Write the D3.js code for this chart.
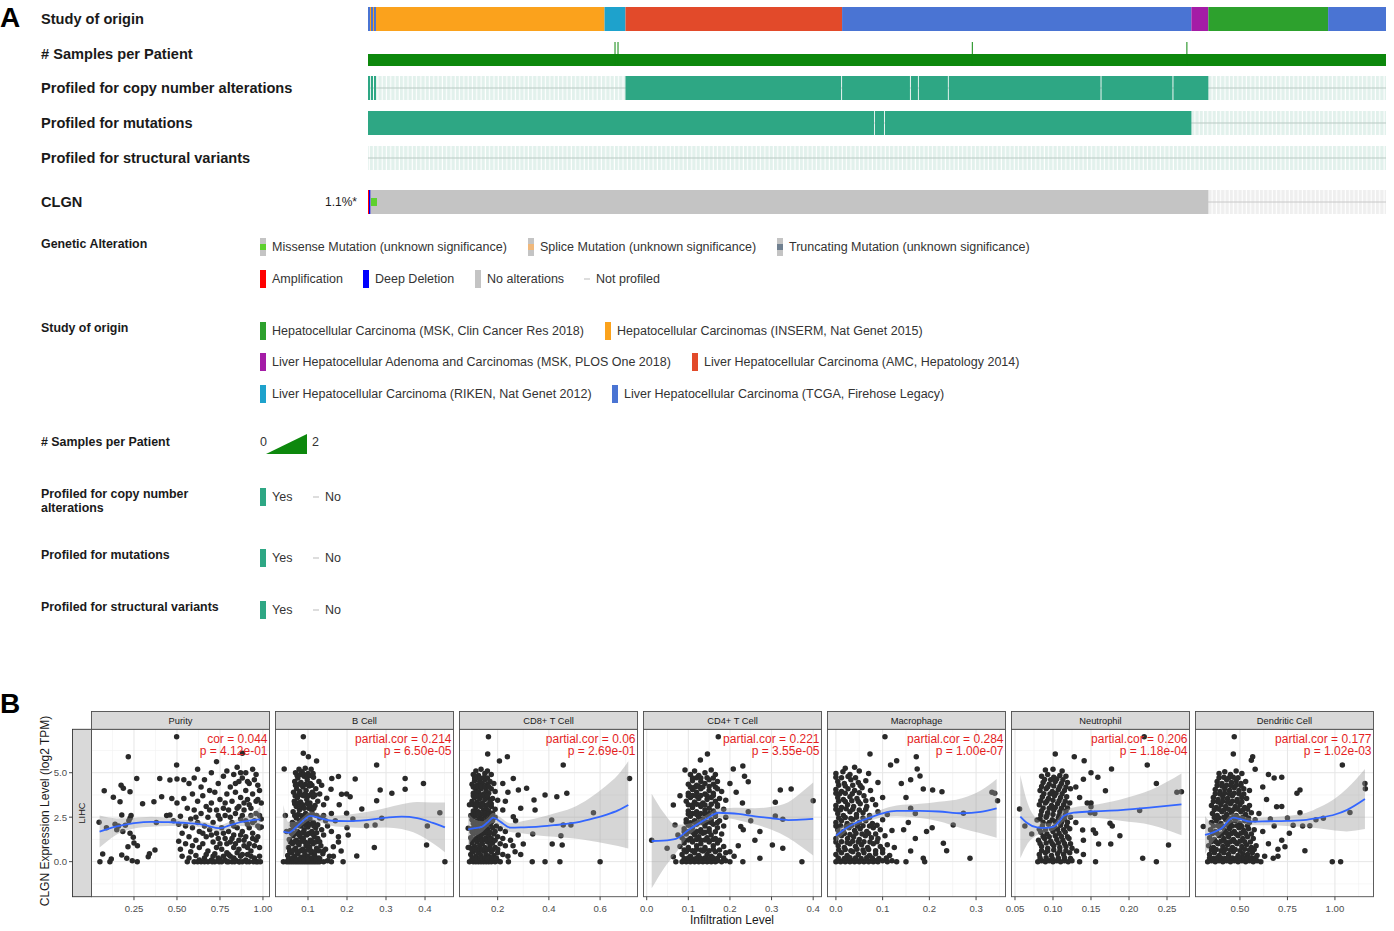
<!DOCTYPE html>
<html><head><meta charset="utf-8">
<script src="https://cdn.jsdelivr.net/npm/d3@7"></script>
<style>
body{margin:0;background:#fff}
svg{display:block}
text{font-family:"Liberation Sans",Arial,Helvetica,sans-serif}
</style></head>
<body><svg id="c" width="1394" height="931"></svg>
<script>
// ---------------- DATA: Panel A (oncoprint) ----------------
const trackLabels = ["Study of origin", "# Samples per Patient", "Profiled for copy number alterations", "Profiled for mutations", "Profiled for structural variants"];
const geneLabel = "CLGN";
const geneFreq = "1.1%*";
const studyNames = [
  "Hepatocellular Carcinoma (MSK, Clin Cancer Res 2018)",
  "Hepatocellular Carcinomas (INSERM, Nat Genet 2015)",
  "Liver Hepatocellular Adenoma and Carcinomas (MSK, PLOS One 2018)",
  "Liver Hepatocellular Carcinoma (AMC, Hepatology 2014)",
  "Liver Hepatocellular Carcinoma (RIKEN, Nat Genet 2012)",
  "Liver Hepatocellular Carcinoma (TCGA, Firehose Legacy)"
];
const studyColors = ["#2da12d", "#fba21c", "#a41ca6", "#e24a2a", "#1ea2cc", "#4a74d3"];
const runStudy = [5, 1, 5, 1, 5, 1, 4, 3, 5, 2, 0, 5];
const runCount = [2, 1, 2, 1, 2, 229, 21, 217, 350, 17, 120, 58];
const twoSampleIdx = [247, 250, 605, 820];
const cnaProfiled = [[0,2],[3,5],[6,8],[258,474],[475,543],[544,551],[552,581],[582,734],[735,806],[807,842]];
const mutProfiled = [[0,507],[508,517],[518,825]];
const svProfiled = [];
const geneProfiled = [[0,842]];
const geneAlt = [[0,"amp"],[1,"homdel"],[3,"missense"],[4,"missense"],[5,"missense"],[6,"missense"],[7,"missense"],[8,"missense"]];

const altLegendRow1 = ["Missense Mutation (unknown significance)", "Splice Mutation (unknown significance)", "Truncating Mutation (unknown significance)"];
const altLegendRow1Colors = ["#5ed12e", "#f0b87b", "#708090"];
const altLegendRow2 = ["Amplification", "Deep Deletion", "No alterations", "Not profiled"];
const studyLegendOrder = [[0,1],[2,3],[4,5]];
const legendTitles = ["Genetic Alteration", "Study of origin", "# Samples per Patient", "Profiled for copy number\nalterations", "Profiled for mutations", "Profiled for structural variants"];

// ---------------- DATA: Panel B (TIMER scatter) ----------------
const panelNames = ["Purity", "B Cell", "CD8+ T Cell", "CD4+ T Cell", "Macrophage", "Neutrophil", "Dendritic Cell"];
const corLabels = ["cor = 0.044", "partial.cor = 0.214", "partial.cor = 0.06", "partial.cor = 0.221", "partial.cor = 0.284", "partial.cor = 0.206", "partial.cor = 0.177"];
const pLabels = ["p = 4.12e-01", "p = 6.50e-05", "p = 2.69e-01", "p = 3.55e-05", "p = 1.00e-07", "p = 1.18e-04", "p = 1.02e-03"];
const xDomains = [[0.003,1.038],[0.0167,0.473],[0.051,0.746],[-0.0077,0.420],[-0.018,0.363],[0.0454,0.2796],[0.266,1.203]];
const xTicks = [[0.25,0.5,0.75,1.0],[0.1,0.2,0.3,0.4],[0.2,0.4,0.6],[0,0.1,0.2,0.3,0.4],[0,0.1,0.2,0.3],[0.05,0.1,0.15,0.2,0.25],[0.5,0.75,1.0]];
const xTickLabels = [["0.25","0.50","0.75","1.00"],["0.1","0.2","0.3","0.4"],["0.2","0.4","0.6"],["0.0","0.1","0.2","0.3","0.4"],["0.0","0.1","0.2","0.3"],["0.05","0.10","0.15","0.20","0.25"],["0.50","0.75","1.00"]];
const yDomain = [-1.97, 7.44];
const yTicks = [0, 2.5, 5.0];
const yTickLabels = ["0.0", "2.5", "5.0"];
const rowStrip = "LIHC";
const yTitle = "CLGN Expression Level (log2 TPM)";
const xTitle = "Infiltration Level";

const ptsPurity = [
0.047,2.21,0.052,0.0,0.068,0.43,0.077,3.99,0.09,1.90,0.11,0.0,0.118,0.15,0.13,3.62,0.14,2.10,0.15,1.80,0.16,2.0,0.169,3.37,0.175,4.30,0.179,2.62,0.179,0.38,0.185,1.70,0.188,4.12,0.20,2.05,0.208,0.19,0.215,0.84,0.217,5.90,0.22,2.30,0.227,3.93,0.227,2.44,0.227,1.60,0.233,2.60,0.24,0.05,0.246,1.37,0.25,1.05,0.266,4.68,0.269,0.0,0.27,0.90,0.30,3.25,0.333,0.28,0.34,0.45,0.366,3.37,0.372,0.66,0.38,2.20,0.40,4.68,0.411,3.65,0.44,2.60,0.459,4.59,0.459,2.62,0.47,3.55,0.48,2.30,0.498,7.02,0.498,5.43,
0.50,4.65,0.50,3.3,0.51,2.1,0.51,1.15,0.52,0.7,0.52,2.55,0.53,1.6,0.53,0.3,0.54,4.6,0.54,3.55,0.55,2.0,0.55,1.0,0.56,0.0,0.56,3.0,0.57,1.4,0.57,4.4,0.58,2.4,0.58,0.55,0.59,1.9,0.59,3.8,0.60,0.0,0.60,2.9,0.60,4.7,0.61,1.2,0.61,0.35,0.62,2.2,0.62,5.2,0.62,3.4,0.63,0.8,0.63,1.7,0.64,0.0,0.64,4.2,0.64,2.7,0.65,1.0,0.65,3.7,0.66,0.2,0.66,2.0,0.66,4.6,0.67,1.4,0.67,3.1,0.68,0.0,0.68,0.6,0.68,2.5,0.69,4.0,0.69,1.8,0.70,0.1,0.70,3.3,0.70,5.0,0.71,1.1,0.71,2.2,0.72,0.0,0.72,0.45,0.72,3.9,0.73,1.6,0.73,2.9,0.73,5.62,0.74,0.2,0.74,4.4,0.75,1.0,0.75,2.4,0.75,3.5,0.76,0.0,0.76,0.7,0.76,1.9,0.77,3.0,0.77,4.8,0.78,0.1,0.78,1.3,0.78,2.6,0.79,0.5,0.79,3.8,0.79,5.1,0.80,0.0,0.80,1.7,0.80,2.9,0.81,0.3,0.81,4.2,0.81,1.1,0.82,0.0,0.82,2.2,0.82,3.4,0.83,0.8,0.83,4.9,0.83,1.5,0.84,0.1,0.84,2.7,0.84,3.9,0.85,0.5,0.85,1.9,0.85,5.3,0.86,0.0,0.86,1.2,0.86,3.1,0.86,4.5,0.87,0.3,0.87,2.4,0.87,3.6,0.88,0.0,0.88,6.09,0.88,1.7,0.88,4.7,0.89,0.9,0.89,2.9,0.89,3.3,0.90,0.1,0.90,5.0,0.90,1.4,0.90,4.0,0.91,0.4,0.91,2.1,0.91,3.5,0.92,0.0,0.92,1.0,0.92,4.4,0.93,2.6,0.93,0.6,0.93,3.0,0.94,5.2,0.94,1.6,0.94,3.8,0.95,0.2,0.95,2.3,0.95,4.6,0.96,0.0,0.96,1.2,0.96,3.4,0.97,0.0,0.97,2.0,0.97,3.5,0.97,4.3,0.98,1.9,0.98,2.6,0.98,0.8,0.99,3.3,0.99,1.95,0.985,0.0,0.945,0.0,0.905,0.0,0.865,0.0,0.835,0.0,0.79,0.0,0.745,0.0,0.705,0.0,0.66,0.0,0.62,0.0,
0.57,0.2,0.59,0.9,0.61,2.5,0.63,0.1,0.65,1.6,0.67,0.4,0.69,2.9,0.70,1.5,0.71,0.3,0.73,0.8,0.74,1.3,0.74,2.6,0.75,0.1,0.77,0.3,0.77,1.6,0.78,3.3,0.79,1.0,0.80,0.4,0.81,2.5,0.82,1.3,0.83,0.2,0.83,2.0,0.84,1.0,0.85,3.0,0.86,0.7,0.87,1.5,0.88,0.4,0.88,2.6,0.89,1.2,0.90,2.3,0.91,0.8,0.91,4.5,0.92,1.9,0.93,0.3,0.94,1.3,0.94,2.2,0.95,0.9,0.96,2.7,0.97,1.4,0.98,0.3,0.98,4.0,0.99,2.4,0.96,4.9,0.92,3.2,0.87,5.0,0.84,4.4
];
const ptsBcell = [
0.045,0.0,0.05,0.0,0.055,0.0,0.06,0.0,0.065,0.0,0.07,0.0,0.075,0.0,0.08,0.0,0.085,0.0,0.09,0.0,0.095,0.0,0.10,0.0,0.105,0.0,0.11,0.0,0.115,0.0,0.12,0.0,0.125,0.0,0.13,0.0,0.14,0.0,0.15,0.05,0.16,0.0,
0.048,0.35,0.058,0.5,0.066,0.3,0.074,0.45,0.083,0.25,0.092,0.4,0.1,0.3,0.108,0.5,0.117,0.35,0.127,0.2,0.138,0.45,0.155,0.3,
0.05,0.8,0.06,1.0,0.068,0.75,0.077,0.95,0.086,0.7,0.095,0.9,0.104,0.8,0.113,1.0,0.122,0.75,0.133,0.9,0.145,0.7,0.165,0.84,
0.052,1.25,0.062,1.45,0.07,1.2,0.08,1.4,0.088,1.3,0.097,1.5,0.106,1.2,0.116,1.4,0.125,1.3,0.14,1.5,0.178,1.4,
0.055,1.75,0.064,1.9,0.073,1.7,0.082,2.0,0.09,1.8,0.1,1.95,0.11,1.7,0.12,1.9,0.135,1.8,0.15,2.0,
0.06,2.2,0.07,2.45,0.079,2.3,0.087,2.5,0.096,2.25,0.105,2.4,0.114,2.2,0.13,2.45,0.145,2.3,
0.062,2.8,0.07,3.1,0.078,2.9,0.086,3.2,0.094,2.7,0.102,3.0,0.11,2.85,0.118,3.15,
0.065,3.4,0.073,3.6,0.081,3.35,0.089,3.7,0.097,3.5,0.105,3.3,0.113,3.65,0.125,3.4,
0.063,3.9,0.071,4.1,0.079,3.95,0.087,4.2,0.095,4.0,0.103,4.25,0.111,3.9,0.12,4.1,
0.066,4.5,0.074,4.7,0.082,4.45,0.09,4.8,0.098,4.6,0.106,4.4,0.114,4.75,0.128,4.5,
0.068,5.0,0.077,5.2,0.085,5.05,0.093,5.25,0.1,4.95,0.108,5.2,
0.039,5.21,0.088,7.02,0.088,6.09,0.101,5.9,0.122,5.66,0.135,4.3,0.13,3.8,0.14,3.2,0.148,3.56,0.14,2.6,
0.159,4.07,0.161,4.68,0.178,4.78,0.186,3.79,0.199,3.80,0.208,3.65,0.221,4.65,0.238,2.96,0.199,2.72,0.276,5.43,0.285,4.03,0.315,3.84,0.349,4.07,0.349,4.68,0.396,4.40,0.276,3.43,0.289,2.44,0.272,2.06,0.250,2.02,0.203,1.5,0.225,0.32,0.270,0.79,0.178,1.1,0.185,0.6,0.165,0.3,0.19,0.0,0.17,2.3,0.16,2.7,0.18,3.2,0.438,2.75,0.406,2.0,0.404,0.94,0.451,0.0,0.037,0.0,0.16,1.7,0.2,1.9,0.215,2.4,0.045,1.7,0.042,2.6,
0.05,0.15,0.06,0.2,0.07,0.12,0.08,0.18,0.09,0.15,0.1,0.12,0.11,0.2,0.12,0.15,0.13,0.18,
0.053,0.6,0.063,0.65,0.072,0.55,0.081,0.62,0.09,0.58,0.099,0.66,0.108,0.6,0.118,0.55,0.128,0.62,0.14,0.6,
0.055,1.1,0.065,1.12,0.074,1.05,0.083,1.15,0.092,1.1,0.101,1.05,0.11,1.15,0.12,1.1,0.13,1.12,
0.058,1.58,0.067,1.6,0.076,1.52,0.085,1.62,0.094,1.55,0.103,1.6,0.112,1.55,0.122,1.62,
0.06,2.05,0.069,2.1,0.078,2.02,0.087,2.12,0.096,2.05,0.105,2.1,0.115,2.0,0.125,2.08,
0.066,2.6,0.075,2.65,0.084,2.58,0.093,2.62,0.102,2.6,0.112,2.65,0.122,2.6,
0.066,3.25,0.074,3.3,0.082,3.1,0.09,3.0,0.098,3.25,0.106,3.1,0.115,3.0,
0.067,3.7,0.077,3.8,0.085,3.75,0.093,3.8,0.101,3.7,0.109,3.8,0.118,3.75,
0.068,4.3,0.077,4.35,0.085,4.3,0.094,4.35,0.102,4.3,0.11,4.3,
0.072,4.85,0.08,4.9,0.089,4.9,0.097,4.8,0.105,4.85,0.113,4.95
];
const ptsCD8 = [
0.09,0.0,0.1,0.05,0.105,0.0,0.11,0.05,0.115,0.0,0.12,0.05,0.125,0.0,0.13,0.05,0.135,0.0,0.14,0.05,0.145,0.0,0.15,0.05,0.155,0.0,0.16,0.05,0.165,0.0,0.17,0.05,0.175,0.0,0.18,0.05,0.19,0.0,0.2,0.05,0.21,0.0,
0.095,0.4,0.105,0.55,0.115,0.3,0.125,0.5,0.135,0.35,0.145,0.6,0.155,0.4,0.165,0.3,0.175,0.55,0.185,0.35,0.2,0.5,0.22,0.4,0.24,0.3,
0.09,0.8,0.1,1.05,0.11,0.85,0.12,1.1,0.13,0.9,0.14,1.0,0.15,0.8,0.16,1.1,0.17,0.9,0.18,1.05,0.19,0.8,0.21,1.0,0.23,0.9,
0.095,1.35,0.105,1.55,0.115,1.3,0.125,1.5,0.135,1.4,0.145,1.6,0.155,1.35,0.165,1.5,0.175,1.3,0.185,1.55,0.2,1.4,0.22,1.3,
0.1,1.85,0.11,2.05,0.12,1.9,0.13,2.1,0.14,1.8,0.15,2.0,0.16,1.85,0.17,2.1,0.18,1.9,0.195,2.0,0.21,1.85,
0.1,2.35,0.11,2.55,0.12,2.3,0.13,2.5,0.14,2.4,0.15,2.6,0.16,2.35,0.17,2.55,0.18,2.3,0.19,2.5,
0.105,2.85,0.115,3.05,0.125,2.8,0.135,3.1,0.145,2.9,0.155,3.0,0.165,2.85,0.175,3.1,0.19,2.95,
0.1,3.4,0.11,3.6,0.12,3.35,0.13,3.55,0.14,3.3,0.15,3.5,0.16,3.6,0.17,3.4,0.18,3.55,0.2,3.45,
0.105,3.85,0.115,4.05,0.125,3.9,0.135,4.1,0.145,3.8,0.155,4.0,0.165,3.85,0.175,4.1,0.19,3.95,
0.1,4.35,0.11,4.55,0.12,4.3,0.13,4.5,0.14,4.4,0.15,4.6,0.16,4.35,0.17,4.5,0.185,4.4,
0.105,4.9,0.115,5.1,0.125,4.85,0.135,5.2,0.15,4.95,0.16,5.1,0.175,4.9,
0.164,7.02,0.161,6.05,0.207,5.66,0.238,5.90,0.456,5.43,0.261,4.68,0.281,4.03,0.313,4.12,0.342,3.47,0.385,3.75,0.431,3.65,0.47,3.84,0.715,4.68,0.346,2.90,0.261,2.53,0.27,2.3,0.411,2.34,0.574,2.75,0.456,2.06,0.486,2.06,0.337,1.56,0.30,0.99,0.413,0.99,0.447,1.46,0.452,0.94,0.335,0.0,0.385,0.0,0.443,0.0,0.60,0.0,0.085,1.88,0.085,0.80,0.242,0.0,0.268,0.56,0.23,1.7,0.25,1.2,0.28,1.5,0.22,2.9,0.23,3.4,0.24,3.9,0.22,4.4,0.29,3.0,0.26,0.9,0.29,0.4,0.095,2.6,0.09,3.2,
0.1,0.18,0.11,0.2,0.12,0.15,0.13,0.2,0.14,0.18,0.15,0.2,0.16,0.15,0.17,0.2,0.18,0.18,0.195,0.2,
0.1,0.65,0.11,0.7,0.12,0.68,0.13,0.7,0.14,0.65,0.15,0.7,0.16,0.68,0.17,0.7,0.18,0.65,0.2,0.7,
0.1,1.2,0.11,1.25,0.12,1.2,0.13,1.25,0.14,1.2,0.15,1.25,0.16,1.2,0.17,1.25,0.19,1.2,
0.1,1.68,0.11,1.7,0.12,1.65,0.13,1.7,0.14,1.65,0.15,1.68,0.16,1.7,0.17,1.65,0.19,1.7,
0.105,2.15,0.115,2.2,0.125,2.15,0.135,2.2,0.145,2.15,0.155,2.2,0.165,2.15,0.175,2.2,
0.105,2.7,0.115,2.68,0.125,2.7,0.135,2.68,0.145,2.7,0.155,2.72,0.165,2.68,0.18,2.72,
0.105,3.2,0.115,3.22,0.125,3.2,0.135,3.22,0.145,3.2,0.16,3.2,0.175,3.25,
0.105,3.7,0.115,3.72,0.125,3.7,0.135,3.72,0.145,3.7,0.16,3.72,
0.105,4.2,0.115,4.22,0.125,4.2,0.135,4.22,0.15,4.2,0.165,4.22,
0.11,4.7,0.12,4.72,0.13,4.7,0.145,4.72,0.16,4.7
];
const ptsCD4 = [
0.085,0.0,0.09,0.05,0.095,0.0,0.10,0.05,0.105,0.0,0.11,0.05,0.115,0.0,0.12,0.05,0.125,0.0,0.13,0.05,0.135,0.0,0.14,0.05,0.145,0.0,0.15,0.05,0.155,0.0,0.16,0.05,0.165,0.0,0.17,0.05,0.18,0.0,0.19,0.05,0.20,0.0,
0.085,0.4,0.095,0.55,0.105,0.3,0.115,0.5,0.125,0.35,0.135,0.6,0.145,0.4,0.155,0.3,0.165,0.55,0.175,0.35,0.19,0.5,
0.08,0.85,0.09,1.05,0.1,0.8,0.11,1.1,0.12,0.9,0.13,1.0,0.14,0.8,0.15,1.1,0.16,0.9,0.17,1.05,0.185,0.85,
0.085,1.35,0.095,1.55,0.105,1.3,0.115,1.5,0.125,1.4,0.135,1.6,0.145,1.35,0.155,1.5,0.165,1.3,0.18,1.55,
0.09,1.85,0.1,2.05,0.11,1.9,0.12,2.1,0.13,1.8,0.14,2.0,0.15,1.85,0.16,2.1,0.17,1.9,0.185,2.0,
0.095,2.35,0.105,2.55,0.115,2.3,0.125,2.5,0.135,2.4,0.145,2.6,0.155,2.35,0.165,2.55,0.175,2.3,0.19,2.5,
0.1,2.85,0.11,3.05,0.12,2.8,0.13,3.1,0.14,2.9,0.15,3.0,0.16,2.85,0.17,3.1,0.185,2.95,
0.095,3.4,0.105,3.6,0.115,3.35,0.125,3.55,0.135,3.3,0.145,3.5,0.155,3.6,0.165,3.4,0.175,3.55,0.19,3.45,
0.1,3.85,0.11,4.05,0.12,3.9,0.13,4.1,0.14,3.8,0.15,4.0,0.16,3.85,0.17,4.1,0.18,3.95,
0.1,4.35,0.11,4.55,0.12,4.3,0.13,4.5,0.14,4.4,0.15,4.6,0.16,4.35,0.17,4.5,
0.105,4.9,0.115,5.1,0.125,4.85,0.14,5.0,0.155,5.15,0.165,4.9,
0.172,7.02,0.146,6.05,0.129,5.71,0.092,5.15,0.208,5.21,0.231,5.38,0.244,4.49,0.235,4.8,0.347,4.08,0.321,4.03,0.309,3.34,0.400,3.43,0.064,3.19,0.244,2.81,0.226,1.97,0.232,1.8,0.272,1.69,0.309,2.57,0.327,2.38,0.302,0.94,0.327,0.75,0.272,0.19,0.231,0.0,0.373,0.0,0.012,1.20,0.049,0.75,0.064,0.28,0.068,2.06,0.200,0.56,0.21,0.3,0.22,0.9,0.215,3.9,0.2,4.4,0.23,3.3,0.25,2.3,0.26,1.2,0.075,1.5,0.07,0.0,0.08,3.7,
0.09,0.18,0.1,0.2,0.11,0.15,0.12,0.2,0.13,0.18,0.14,0.2,0.15,0.15,0.16,0.2,0.17,0.18,0.185,0.2,
0.09,0.65,0.1,0.68,0.11,0.62,0.12,0.7,0.13,0.65,0.14,0.68,0.15,0.62,0.16,0.7,0.175,0.65,
0.09,1.2,0.1,1.22,0.11,1.18,0.12,1.25,0.13,1.2,0.14,1.22,0.15,1.18,0.16,1.25,0.175,1.2,
0.09,1.68,0.1,1.7,0.11,1.65,0.12,1.7,0.13,1.68,0.14,1.65,0.15,1.7,0.165,1.68,
0.095,2.2,0.105,2.18,0.115,2.22,0.125,2.2,0.135,2.18,0.145,2.22,0.155,2.2,0.17,2.2,
0.1,2.68,0.11,2.7,0.12,2.65,0.13,2.7,0.14,2.68,0.15,2.7,0.165,2.68,
0.1,3.2,0.11,3.18,0.12,3.22,0.13,3.2,0.14,3.18,0.155,3.22,0.17,3.2,
0.1,3.7,0.11,3.72,0.12,3.68,0.13,3.72,0.145,3.7,0.16,3.72,
0.105,4.2,0.115,4.18,0.125,4.22,0.135,4.2,0.15,4.22,0.165,4.2,
0.11,4.7,0.12,4.72,0.13,4.7,0.145,4.72,0.16,4.7
];
const ptsMacro = [
0.0,0.0,0.005,0.05,0.01,0.0,0.015,0.05,0.02,0.0,0.025,0.05,0.03,0.0,0.035,0.05,0.04,0.0,0.045,0.05,0.05,0.0,0.055,0.05,0.06,0.0,0.065,0.05,0.07,0.0,0.075,0.05,0.08,0.0,0.085,0.05,0.09,0.0,0.1,0.05,0.11,0.0,0.12,0.05,
0.0,0.4,0.012,0.5,0.024,0.35,0.036,0.55,0.048,0.4,0.06,0.5,0.072,0.35,0.085,0.45,0.1,0.5,0.115,0.35,
0.005,0.9,0.018,0.8,0.03,1.0,0.042,0.85,0.055,0.95,0.068,0.8,0.08,1.0,0.095,0.85,0.11,0.95,0.125,0.8,
0.0,1.3,0.012,1.45,0.025,1.3,0.038,1.4,0.05,1.25,0.063,1.45,0.076,1.35,0.09,1.3,0.105,1.45,
0.004,1.8,0.016,1.7,0.028,1.9,0.04,1.75,0.052,1.85,0.066,1.7,0.08,1.9,0.095,1.8,0.12,1.75,
0.0,2.2,0.012,2.3,0.024,2.15,0.036,2.35,0.05,2.2,0.064,2.3,0.078,2.15,0.1,2.35,
0.004,2.7,0.016,2.6,0.03,2.8,0.044,2.65,0.058,2.75,0.072,2.6,0.09,2.8,0.11,2.65,
0.0,3.15,0.012,3.05,0.025,3.2,0.038,3.1,0.052,3.25,0.066,3.1,0.085,3.2,
0.004,3.6,0.016,3.5,0.03,3.65,0.045,3.55,0.06,3.7,0.078,3.5,0.1,3.6,
0.0,4.05,0.012,3.95,0.026,4.1,0.04,4.0,0.056,4.15,0.074,4.0,
0.004,4.5,0.018,4.4,0.032,4.6,0.048,4.45,0.064,4.55,0.09,4.45,
0.0,4.95,0.015,5.05,0.03,4.9,0.05,5.1,0.07,4.95,0.02,5.25,0.04,5.3,
0.105,7.02,0.073,6.05,0.117,5.43,0.130,5.67,0.172,5.90,0.174,5.21,0.180,4.81,0.187,4.08,0.207,4.03,0.227,3.93,0.334,3.90,0.34,3.85,0.346,3.43,0.273,2.72,0.251,2.06,0.206,1.91,0.194,1.69,0.23,1.03,0.237,0.62,0.287,0.19,0.187,0.19,0.19,0.0,0.15,0.0,0.16,0.6,0.17,1.3,0.155,2.2,0.16,3.0,0.15,3.6,0.14,4.4,0.16,4.6,0.13,0.0,0.145,1.8,0.17,2.7,
0.005,0.2,0.018,0.18,0.03,0.22,0.042,0.2,0.054,0.18,0.066,0.22,0.078,0.2,0.092,0.18,0.108,0.2,
0.006,0.65,0.02,0.68,0.032,0.62,0.045,0.7,0.058,0.65,0.07,0.68,0.085,0.62,0.1,0.68,
0.0,1.1,0.012,1.12,0.024,1.08,0.036,1.15,0.048,1.1,0.06,1.12,0.073,1.1,0.088,1.12,
0.006,1.55,0.018,1.58,0.03,1.52,0.043,1.6,0.056,1.55,0.07,1.58,0.085,1.55,
0.0,2.0,0.01,2.02,0.022,1.98,0.034,2.05,0.046,2.0,0.058,2.02,0.072,2.0,0.088,2.05,
0.006,2.45,0.02,2.48,0.032,2.42,0.044,2.5,0.058,2.45,0.072,2.48,
0.0,2.95,0.01,2.92,0.022,2.98,0.036,2.95,0.05,2.9,0.064,2.95,
0.006,3.4,0.02,3.38,0.034,3.42,0.048,3.38,0.064,3.42,
0.0,3.85,0.008,3.82,0.02,3.85,0.035,3.82,0.05,3.88,
0.006,4.3,0.02,4.25,0.036,4.3,0.052,4.28,
0.0,4.75,0.012,4.72,0.026,4.78,0.042,4.72
];
const ptsNeutro = [
0.08,0.0,0.085,0.05,0.09,0.0,0.095,0.05,0.1,0.0,0.105,0.05,0.11,0.0,0.115,0.05,0.12,0.0,0.125,0.05,
0.082,0.4,0.09,0.5,0.098,0.35,0.106,0.45,0.114,0.4,0.122,0.5,
0.085,0.85,0.093,0.75,0.101,0.9,0.109,0.8,0.117,0.85,0.125,0.75,
0.081,1.2,0.089,1.3,0.097,1.15,0.105,1.25,0.113,1.2,0.121,1.3,
0.084,1.65,0.092,1.55,0.1,1.7,0.108,1.6,0.116,1.65,
0.086,2.0,0.094,2.1,0.102,1.95,0.11,2.05,0.118,2.0,
0.083,2.4,0.091,2.5,0.099,2.35,0.107,2.45,0.115,2.4,0.123,2.5,
0.085,2.85,0.093,2.75,0.101,2.9,0.109,2.8,0.117,2.85,
0.082,3.2,0.09,3.3,0.098,3.15,0.106,3.25,0.114,3.2,0.122,3.3,
0.086,3.65,0.094,3.55,0.102,3.7,0.11,3.6,0.118,3.65,
0.083,4.0,0.091,4.1,0.099,3.95,0.107,4.05,0.115,4.0,0.123,4.1,
0.087,4.45,0.095,4.35,0.103,4.5,0.111,4.4,0.119,4.45,
0.085,4.8,0.093,4.9,0.101,4.75,0.109,4.85,0.117,4.8,
0.09,5.15,0.1,5.2,0.112,5.1,
0.220,7.02,0.103,6.05,0.128,5.90,0.141,5.67,0.177,5.21,0.224,5.43,0.150,5.0,0.159,4.74,0.140,4.63,0.236,4.40,0.169,3.99,0.150,3.09,0.150,3.3,0.214,2.87,0.263,3.90,0.269,3.93,0.056,2.96,0.063,2.0,0.072,1.56,0.079,2.34,0.149,2.75,0.155,2.7,0.139,1.78,0.153,1.78,0.156,1.6,0.175,2.16,0.178,2.0,0.188,1.46,0.160,0.99,0.176,0.99,0.218,0.19,0.236,0.0,0.252,0.94,0.156,0.0,0.131,0.6,0.14,0.4,0.135,0.0,0.13,2.2,0.135,3.6,0.13,4.2,0.145,3.3,0.14,1.2,
0.083,0.2,0.091,0.22,0.099,0.18,0.107,0.2,0.115,0.22,0.123,0.18,
0.085,0.62,0.093,0.6,0.101,0.65,0.109,0.6,0.117,0.62,
0.083,1.02,0.091,1.05,0.099,1.0,0.107,1.05,0.115,1.02,0.123,1.0,
0.087,1.42,0.095,1.4,0.103,1.45,0.111,1.42,0.119,1.4,
0.082,1.82,0.09,1.8,0.098,1.85,0.106,1.82,0.114,1.8,0.122,1.85,
0.087,2.22,0.095,2.2,0.103,2.25,0.111,2.2,0.119,2.22,
0.084,2.62,0.092,2.6,0.1,2.65,0.108,2.6,0.116,2.62,
0.087,3.02,0.095,3.0,0.103,3.05,0.111,3.0,0.119,3.02,
0.084,3.42,0.092,3.4,0.1,3.45,0.108,3.42,0.116,3.4,
0.088,3.82,0.096,3.8,0.104,3.85,0.112,3.82,
0.085,4.22,0.093,4.2,0.101,4.25,0.109,4.22,0.117,4.2,
0.089,4.62,0.097,4.6,0.105,4.65,0.113,4.6
];
const ptsDendritic = [
0.33,0.0,0.35,0.05,0.37,0.0,0.39,0.05,0.41,0.0,0.43,0.05,0.45,0.0,0.47,0.05,0.49,0.0,0.51,0.05,0.53,0.0,0.55,0.05,0.57,0.0,0.59,0.05,
0.34,0.4,0.365,0.5,0.39,0.35,0.415,0.5,0.44,0.4,0.465,0.55,0.49,0.35,0.515,0.45,0.54,0.4,0.565,0.5,0.59,0.35,
0.335,0.9,0.36,0.8,0.385,1.0,0.41,0.85,0.435,0.95,0.46,0.8,0.485,1.0,0.51,0.85,0.535,0.95,0.56,0.8,0.585,0.9,
0.34,1.35,0.365,1.25,0.39,1.45,0.415,1.3,0.44,1.4,0.465,1.25,0.49,1.45,0.515,1.3,0.54,1.4,0.57,1.3,
0.345,1.8,0.37,1.7,0.395,1.9,0.42,1.75,0.445,1.85,0.47,1.7,0.495,1.9,0.52,1.75,0.545,1.85,0.575,1.8,
0.35,2.2,0.375,2.3,0.4,2.15,0.425,2.35,0.45,2.2,0.475,2.3,0.5,2.15,0.525,2.3,0.55,2.2,0.58,2.35,
0.355,2.7,0.38,2.6,0.405,2.8,0.43,2.65,0.455,2.75,0.48,2.6,0.505,2.8,0.53,2.65,0.56,2.75,
0.35,3.15,0.375,3.05,0.4,3.2,0.425,3.1,0.45,3.25,0.475,3.1,0.5,3.2,0.525,3.05,0.55,3.15,
0.36,3.6,0.385,3.5,0.41,3.65,0.435,3.55,0.46,3.7,0.485,3.5,0.51,3.6,0.535,3.55,
0.37,4.05,0.395,3.95,0.42,4.1,0.445,4.0,0.47,4.15,0.495,4.0,0.52,4.1,0.55,4.0,
0.38,4.5,0.405,4.4,0.43,4.6,0.455,4.45,0.48,4.55,0.505,4.4,0.53,4.5,
0.39,4.95,0.42,5.05,0.45,4.9,0.48,5.1,0.51,4.95,
0.470,7.02,0.465,6.05,0.567,5.90,0.56,5.7,1.039,5.43,1.158,4.40,1.16,4.1,0.816,4.03,0.80,3.85,0.720,4.74,0.68,4.7,0.693,3.09,0.72,3.1,1.079,2.77,0.816,2.75,0.939,2.44,0.90,2.35,0.868,2.02,0.83,2.0,0.78,2.05,0.737,0.84,0.70,0.7,0.842,0.62,0.986,0.0,1.030,0.0,0.675,0.19,0.70,0.3,0.307,1.97,0.76,1.6,0.72,1.2,0.65,1.0,0.66,2.4,0.64,3.5,0.62,4.2,0.68,2.0,0.75,2.45,0.61,0.0,0.63,0.3,0.62,1.7,0.60,2.7,0.65,4.9,0.58,5.2,
0.34,0.2,0.36,0.18,0.38,0.22,0.40,0.2,0.42,0.18,0.44,0.22,0.46,0.2,0.48,0.18,0.50,0.22,0.52,0.2,0.54,0.18,0.56,0.22,0.58,0.2,
0.35,0.65,0.375,0.68,0.40,0.62,0.425,0.7,0.45,0.65,0.475,0.68,0.50,0.62,0.525,0.7,0.55,0.65,0.575,0.68,
0.35,1.12,0.375,1.1,0.40,1.15,0.425,1.1,0.45,1.12,0.475,1.1,0.50,1.15,0.525,1.12,0.555,1.1,
0.355,1.58,0.38,1.6,0.405,1.55,0.43,1.6,0.455,1.58,0.48,1.55,0.505,1.6,0.53,1.58,0.56,1.55,
0.36,2.0,0.385,2.02,0.41,1.98,0.435,2.05,0.46,2.0,0.485,2.02,0.51,1.98,0.54,2.02,
0.365,2.48,0.39,2.45,0.415,2.5,0.44,2.45,0.465,2.48,0.49,2.45,0.515,2.5,0.545,2.45,
0.365,2.92,0.39,2.95,0.415,2.9,0.44,2.95,0.465,2.92,0.49,2.95,0.515,2.9,0.54,2.95,
0.36,3.38,0.385,3.35,0.41,3.4,0.435,3.35,0.46,3.4,0.485,3.38,0.51,3.35,
0.37,3.82,0.395,3.8,0.42,3.85,0.445,3.8,0.47,3.85,0.495,3.82,0.52,3.8,
0.38,4.28,0.405,4.25,0.43,4.3,0.455,4.25,0.48,4.3,0.505,4.28,
0.39,4.72,0.415,4.75,0.44,4.7,0.465,4.75,0.49,4.72
];
// loess fits: [x, fit, half-width of confidence band]
const fitPurity = [[0.05,1.69,0.9],[0.15,1.98,0.45],[0.25,2.16,0.3],[0.35,2.24,0.28],[0.45,2.22,0.22],[0.55,2.18,0.18],[0.65,2.08,0.16],[0.75,1.88,0.18],[0.80,2.02,0.2],[0.87,2.22,0.22],[0.93,2.32,0.35],[0.985,2.38,0.7]];
const fitBcell = [[0.037,1.69,1.5],[0.05,1.63,0.6],[0.07,1.95,0.3],[0.09,2.35,0.22],[0.105,2.57,0.25],[0.13,2.45,0.25],[0.16,2.30,0.28],[0.20,2.28,0.35],[0.25,2.34,0.45],[0.30,2.47,0.55],[0.34,2.53,0.7],[0.38,2.45,0.9],[0.42,2.18,1.15],[0.451,1.93,1.4]];
const fitCD8 = [[0.085,1.82,0.9],[0.11,1.88,0.5],[0.14,1.97,0.3],[0.16,2.2,0.25],[0.183,2.47,0.28],[0.21,2.25,0.25],[0.25,1.91,0.25],[0.30,1.93,0.35],[0.36,1.97,0.5],[0.42,2.05,0.65],[0.49,2.16,0.85],[0.56,2.38,1.2],[0.62,2.62,1.6],[0.67,2.88,2.0],[0.71,3.19,2.45]];
const fitCD4 = [[0.012,1.16,2.66],[0.04,1.18,1.6],[0.07,1.28,0.8],[0.10,1.78,0.35],[0.132,2.25,0.22],[0.15,2.5,0.22],[0.172,2.75,0.25],[0.20,2.72,0.3],[0.22,2.68,0.35],[0.26,2.55,0.45],[0.30,2.44,0.65],[0.34,2.34,1.0],[0.37,2.36,1.5],[0.40,2.40,2.05]];
const fitMacro = [[0.0,1.46,0.35],[0.02,1.85,0.22],[0.041,2.16,0.18],[0.07,2.45,0.18],[0.10,2.72,0.22],[0.13,2.85,0.3],[0.18,2.85,0.4],[0.22,2.82,0.55],[0.27,2.72,0.85],[0.31,2.80,1.2],[0.344,3.0,1.65]];
const fitNeutro = [[0.057,2.53,2.34],[0.065,2.2,1.3],[0.079,1.93,0.45],[0.09,1.9,0.25],[0.101,1.97,0.2],[0.108,2.25,0.25],[0.114,2.57,0.3],[0.127,2.75,0.3],[0.15,2.82,0.35],[0.189,2.90,0.6],[0.23,3.05,1.0],[0.269,3.22,1.73]];
const fitDendritic = [[0.316,1.5,1.07],[0.36,1.65,0.5],[0.40,1.85,0.3],[0.465,2.47,0.25],[0.50,2.4,0.22],[0.553,2.25,0.2],[0.65,2.27,0.22],[0.746,2.29,0.28],[0.85,2.35,0.4],[0.921,2.47,0.6],[1.00,2.65,0.9],[1.062,2.90,1.2],[1.158,3.52,1.69]];

const panelPoints = [ptsPurity, ptsBcell, ptsCD8, ptsCD4, ptsMacro, ptsNeutro, ptsDendritic];
const panelFits = [fitPurity, fitBcell, fitCD8, fitCD4, fitMacro, fitNeutro, fitDendritic];

// ---------------- DRAWING ----------------
const svg = d3.select("#c");
const defs = svg.append("defs");
const pat = defs.append("pattern").attr("id","np").attr("patternUnits","userSpaceOnUse").attr("width",4.3).attr("height",10);
pat.append("rect").attr("width",4.3).attr("height",10).attr("fill","#ffffff");
pat.append("rect").attr("width",3.2).attr("height",10).attr("fill","#e2f1ec");
const pat2 = defs.append("pattern").attr("id","np2").attr("patternUnits","userSpaceOnUse").attr("width",4.3).attr("height",10);
pat2.append("rect").attr("width",4.3).attr("height",10).attr("fill","#ffffff");
pat2.append("rect").attr("width",3.2).attr("height",10).attr("fill","#efefef");

svg.append("text").attr("x",0).attr("y",27).attr("font-size",28).attr("font-weight","bold").text("A");
svg.append("text").attr("x",0).attr("y",713).attr("font-size",28).attr("font-weight","bold").text("B");

const nSamples = d3.sum(runCount);
const ox = d3.scaleLinear().domain([0, nSamples]).range([368, 1386]);
const runs = [];
{ let s = 0; runCount.forEach((n,i)=>{ runs.push({start:s, end:s+n, study:runStudy[i]}); s += n; }); }

const trackY = [7, 42, 76, 111, 146];
const trackH = 24;
const geneY = 190;
const labelG = svg.append("g");
trackLabels.forEach((t,i)=>{
  labelG.append("text").attr("x",41).attr("y",trackY[i]+12).attr("dy","0.35em")
    .attr("font-size",14.6).attr("font-weight","bold").attr("fill","#1a1a1a").text(t);
});
labelG.append("text").attr("x",41).attr("y",geneY+12).attr("dy","0.35em").attr("font-size",14.6).attr("font-weight","bold").attr("fill","#1a1a1a").text(geneLabel);
labelG.append("text").attr("x",357).attr("y",geneY+12).attr("dy","0.35em").attr("text-anchor","end").attr("font-size",12).attr("fill","#1a1a1a").text(geneFreq);

svg.append("g").selectAll("rect").data(runs).join("rect")
  .attr("x",d=>ox(d.start)).attr("width",d=>ox(d.end)-ox(d.start))
  .attr("y",trackY[0]).attr("height",trackH).attr("fill",d=>studyColors[d.study]);

const sppScale = d3.scaleLinear().domain([0,2]).range([0,trackH]);
svg.append("rect").attr("x",ox(0)).attr("width",ox(nSamples)-ox(0))
  .attr("y",trackY[1]+trackH-sppScale(1)).attr("height",sppScale(1)).attr("fill","#0d880d");
svg.append("g").selectAll("rect").data(twoSampleIdx).join("rect")
  .attr("x",d=>ox(d)).attr("width",Math.max(1,ox(1)-ox(0)))
  .attr("y",trackY[1]+trackH-sppScale(2)).attr("height",sppScale(2)).attr("fill","#0d880d");

function drawProfiled(y, ranges, color, patId, lineColor){
  const g = svg.append("g");
  g.append("rect").attr("x",ox(0)).attr("width",ox(nSamples)-ox(0)).attr("y",y).attr("height",trackH).attr("fill",`url(#${patId})`);
  g.append("line").attr("x1",ox(0)).attr("x2",ox(nSamples)).attr("y1",y+trackH/2).attr("y2",y+trackH/2).attr("stroke",lineColor).attr("stroke-width",1);
  g.selectAll("rect.p").data(ranges).join("rect").attr("class","p")
    .attr("x",d=>ox(d[0])).attr("width",d=>ox(d[1])-ox(d[0]))
    .attr("y",y).attr("height",trackH).attr("fill",color);
  return g;
}
const profColor = "#2ea784";
drawProfiled(trackY[2], cnaProfiled, profColor, "np", "#b9c9c3");
drawProfiled(trackY[3], mutProfiled, profColor, "np", "#b9c9c3");
drawProfiled(trackY[4], svProfiled, profColor, "np", "#b9c9c3");
const gg = drawProfiled(geneY, geneProfiled, "#c4c4c4", "np2", "#c8c8c8");
const altColor = {amp:"#ff0000", homdel:"#0000ff", missense:"#5ed12e"};
geneAlt.forEach(([i,t])=>{
  if(t==="missense"){
    gg.append("rect").attr("x",ox(i)).attr("width",ox(i+1)-ox(i)).attr("y",geneY+trackH/3).attr("height",trackH/3).attr("fill",altColor[t]);
  } else {
    gg.append("rect").attr("x",ox(i)).attr("width",ox(i+1)-ox(i)+0.3).attr("y",geneY).attr("height",trackH).attr("fill",altColor[t]);
  }
});

// Legends
const lg = svg.append("g").attr("font-size",12.5).attr("fill","#333");
const titleY = [244, 328, 442, 494, 555, 607];
legendTitles.forEach((t,i)=>{
  t.split("\n").forEach((ln,j)=>{
    lg.append("text").attr("x",41).attr("y",titleY[i]+j*14).attr("dy","0.35em").attr("font-size",12.4).attr("font-weight","bold").attr("fill","#1a1a1a").text(ln);
  });
});
function swatch(x, yc, fill, inner){
  lg.append("rect").attr("x",x).attr("y",yc-9).attr("width",6).attr("height",18).attr("fill",fill);
  if(inner) lg.append("rect").attr("x",x).attr("y",yc-3).attr("width",6).attr("height",6).attr("fill",inner);
}
function ltext(x, yc, t){ lg.append("text").attr("x",x).attr("y",yc).attr("dy","0.35em").attr("fill","#333").text(t); }
function dash(x, yc){ lg.append("line").attr("x1",x).attr("x2",x+6).attr("y1",yc).attr("y2",yc).attr("stroke","#bbb").attr("stroke-width",1); }
const r1x = [260, 528, 777];
altLegendRow1.forEach((t,i)=>{ swatch(r1x[i],247,"#c4c4c4",altLegendRow1Colors[i]); ltext(r1x[i]+12,247,t); });
swatch(260,279,"#ff0000"); ltext(272,279,altLegendRow2[0]);
swatch(363,279,"#0000ff"); ltext(375,279,altLegendRow2[1]);
swatch(475,279,"#c4c4c4"); ltext(487,279,altLegendRow2[2]);
dash(584,279); ltext(596,279,altLegendRow2[3]);
const studyRowY = [331, 362, 394];
const studyColX = [[260,605],[260,692],[260,612]];
studyLegendOrder.forEach((row,r)=>{
  row.forEach((si,c)=>{ swatch(studyColX[r][c], studyRowY[r], studyColors[si]); ltext(studyColX[r][c]+12, studyRowY[r], studyNames[si]); });
});
ltext(260,442,"0");
lg.append("path").attr("d",`M266,454 L307,434 L307,454 Z`).attr("fill","#0d880d");
ltext(312,442,"2");
[497, 558, 610].forEach(y=>{
  swatch(260,y,profColor); ltext(272,y,"Yes"); dash(313,y); ltext(325,y,"No");
});

// ---------------- Panel B ----------------
const PB = {x0: 91.5, step: 184, w: 178, top: 729.3, bottom: 896.7, stripTop: 711.5};
const y = d3.scaleLinear().domain(yDomain).range([PB.bottom, PB.top]);
function minorBreaks(majors, dom){
  const st = majors.length>1 ? majors[1]-majors[0] : 1;
  const ext = [majors[0]-st, ...majors, majors[majors.length-1]+st];
  const out = [];
  for(let i=0;i<ext.length-1;i++){ const m=(ext[i]+ext[i+1])/2; if(m>=dom[0] && m<=dom[1]) out.push(m); }
  return out;
}
const yMinor = minorBreaks(yTicks, yDomain);
const bG = svg.append("g");

bG.append("text").attr("transform",`translate(49,${(PB.top+PB.bottom)/2-2}) rotate(-90)`).attr("text-anchor","middle")
  .attr("font-size",12).attr("fill","#1a1a1a").text(yTitle);
bG.append("rect").attr("x",72.5).attr("y",PB.top).attr("width",PB.x0-72.5).attr("height",PB.bottom-PB.top)
  .attr("fill","#d9d9d9").attr("stroke","#333").attr("stroke-width",0.9);
bG.append("text").attr("transform",`translate(${(72.5+PB.x0)/2},${(PB.top+PB.bottom)/2}) rotate(-90)`).attr("text-anchor","middle").attr("dy","0.35em")
  .attr("font-size",9.3).attr("fill","#1a1a1a").text(rowStrip);
yTicks.forEach((t,i)=>{
  bG.append("line").attr("x1",69).attr("x2",72.5).attr("y1",y(t)).attr("y2",y(t)).attr("stroke","#333").attr("stroke-width",0.9);
  bG.append("text").attr("x",67).attr("y",y(t)).attr("dy","0.35em").attr("text-anchor","end").attr("font-size",9.6).attr("fill","#4d4d4d").text(yTickLabels[i]);
});
bG.append("text").attr("x",732).attr("y",924).attr("text-anchor","middle").attr("font-size",12).attr("fill","#1a1a1a").text(xTitle);

panelNames.forEach((name,k)=>{
  const px0 = PB.x0 + k*PB.step, px1 = px0 + PB.w;
  const x = d3.scaleLinear().domain(xDomains[k]).range([px0, px1]);
  const g = bG.append("g");
  const cid = "clip"+k;
  defs.append("clipPath").attr("id",cid).append("rect").attr("x",px0).attr("y",PB.top).attr("width",PB.w).attr("height",PB.bottom-PB.top);
  g.append("rect").attr("x",px0).attr("y",PB.top).attr("width",PB.w).attr("height",PB.bottom-PB.top).attr("fill","#fff");
  const xMinor = minorBreaks(xTicks[k], xDomains[k]);
  xMinor.forEach(v=> g.append("line").attr("x1",x(v)).attr("x2",x(v)).attr("y1",PB.top).attr("y2",PB.bottom).attr("stroke","#f0f0f0").attr("stroke-width",0.6));
  yMinor.forEach(v=> g.append("line").attr("x1",px0).attr("x2",px1).attr("y1",y(v)).attr("y2",y(v)).attr("stroke","#f0f0f0").attr("stroke-width",0.6));
  xTicks[k].forEach(v=> g.append("line").attr("x1",x(v)).attr("x2",x(v)).attr("y1",PB.top).attr("y2",PB.bottom).attr("stroke","#e6e6e6").attr("stroke-width",1));
  yTicks.forEach(v=> g.append("line").attr("x1",px0).attr("x2",px1).attr("y1",y(v)).attr("y2",y(v)).attr("stroke","#e6e6e6").attr("stroke-width",1));
  const pts = [];
  const arr = panelPoints[k];
  for(let i=0;i<arr.length;i+=2) pts.push([arr[i], arr[i+1]]);
  const inner = g.append("g").attr("clip-path",`url(#${cid})`);
  inner.selectAll("circle").data(pts).join("circle").attr("cx",d=>x(d[0])).attr("cy",d=>y(d[1])).attr("r",2.75).attr("fill","#2a2a2a");
  const fit = panelFits[k];
  const area = d3.area().x(d=>x(d[0])).y0(d=>y(d[1]-d[2])).y1(d=>y(d[1]+d[2])).curve(d3.curveMonotoneX);
  inner.append("path").attr("d",area(fit)).attr("fill","#999999").attr("fill-opacity",0.4);
  const line = d3.line().x(d=>x(d[0])).y(d=>y(d[1])).curve(d3.curveMonotoneX);
  inner.append("path").attr("d",line(fit)).attr("fill","none").attr("stroke","#3366ff").attr("stroke-width",1.8);
  g.append("text").attr("x",px1-2).attr("y",PB.top+14).attr("text-anchor","end").attr("font-size",12).attr("fill","#e41e1e").text(corLabels[k]);
  g.append("text").attr("x",px1-2).attr("y",PB.top+26).attr("text-anchor","end").attr("font-size",12).attr("fill","#e41e1e").text(pLabels[k]);
  g.append("rect").attr("x",px0).attr("y",PB.top).attr("width",PB.w).attr("height",PB.bottom-PB.top).attr("fill","none").attr("stroke","#4d4d4d").attr("stroke-width",0.9);
  g.append("rect").attr("x",px0).attr("y",PB.stripTop).attr("width",PB.w).attr("height",PB.top-PB.stripTop).attr("fill","#d9d9d9").attr("stroke","#4d4d4d").attr("stroke-width",0.9);
  g.append("text").attr("x",(px0+px1)/2).attr("y",(PB.stripTop+PB.top)/2).attr("dy","0.35em").attr("text-anchor","middle").attr("font-size",9.3).attr("fill","#1a1a1a").text(name);
  xTicks[k].forEach((v,i)=>{
    g.append("line").attr("x1",x(v)).attr("x2",x(v)).attr("y1",PB.bottom).attr("y2",PB.bottom+3.5).attr("stroke","#333").attr("stroke-width",0.9);
    g.append("text").attr("x",x(v)).attr("y",PB.bottom+11.5).attr("dy","0.35em").attr("text-anchor","middle").attr("font-size",9.6).attr("fill","#4d4d4d").text(xTickLabels[k][i]);
  });
});
</script>
</body></html>
